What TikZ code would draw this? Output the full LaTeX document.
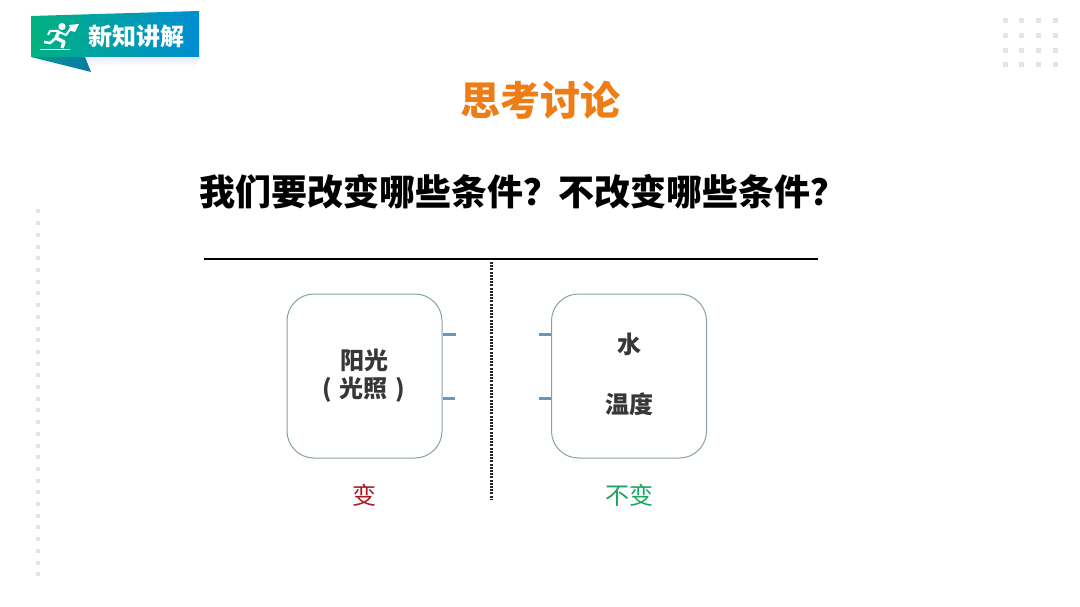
\documentclass[tikz,border=0pt]{standalone}
\usepackage{fontspec}
\setmainfont{Noto Sans CJK SC}
\definecolor{tealgreen}{RGB}{0,178,128}
\definecolor{bannerblue}{RGB}{0,140,212}
\definecolor{tailblue}{RGB}{10,120,165}
\definecolor{titleorange}{RGB}{237,125,20}
\definecolor{boxline}{RGB}{135,160,165}
\definecolor{tickblue}{RGB}{105,150,195}
\definecolor{dotgray}{RGB}{228,228,228}
\definecolor{changered}{RGB}{170,25,35}
\definecolor{keepgreen}{RGB}{25,165,95}
\definecolor{labelgray}{RGB}{55,55,55}
\begin{document}
\begin{tikzpicture}[
        x=1pt, y=-1pt,
        every node/.style={inner sep=0pt},
        condbox/.style={draw=boxline, line width=1pt, rounded corners=27pt, minimum width=155pt, minimum height=164pt},
        condtext/.style={font=\bfseries\fontsize{24}{30}\selectfont, text=labelgray, align=center},
        sidelabel/.style={font=\fontsize{24}{28}\selectfont},
        tickline/.style={draw=tickblue, line width=3pt},
        greydot/.style={fill=dotgray, draw=none}
    ]
        \useasboundingbox (0,0) rectangle (1080,607);
        % banner
        \shade[top color=blue!8, bottom color=white] (38,57) -- (200,57) -- (196,67) -- (92,67) -- (42,64) -- cycle;
        \shade[left color=tealgreen!60!tailblue, right color=tailblue] (31,57) -- (91,72) -- (85,57) -- cycle;
        \shade[left color=tealgreen, right color=bannerblue] (31,16) -- (199,11) -- (199,57) -- (31,57) -- cycle;
        \node[font=\bfseries\fontsize{24}{24}\selectfont, text=white] (banner) at (136.5,36.5) {新知讲解};
        % runner
        \fill[white] (62,26.5) circle (3.6);
        \draw[white, line width=3.4pt, line join=round] (59,31) -- (56,38) -- (64,42) -- (62,48);
        \draw[white, line width=2.6pt, line join=round] (56,38) -- (50,43) -- (44,42);
        \draw[white, line width=2pt, line join=round] (59,31) -- (50,31) -- (48,35);
        \draw[white, line width=2pt, line join=round] (59,32) -- (66,35) -- (71,28);
        \fill[white] (69,25) -- (79,24) -- (75,32) -- (71,31) -- cycle;
        \draw[white, line width=1pt] (40,50) -- (70,50);
        % corner dots
        \foreach \px in {1005,1021,1038,1055}
            \foreach \py in {21,36,51,65}
                \fill[greydot] (\px-2.5,\py-2.5) rectangle (\px+2.5,\py+2.5);
        % side dots
        \foreach \py in {0,...,31}
            \fill[greydot] (35.5,209.5+\py*11.7) rectangle (39.5,213.5+\py*11.7);
        % headings
        \node[font=\bfseries\fontsize{40}{44}\selectfont, text=titleorange] (title) at (540,100) {思考讨论};
        \node[font=\bfseries\fontsize{36}{40}\selectfont, text=black] (question) at (523,192) {我们要改变哪些条件\symbol{"FF1F}不改变哪些条件\symbol{"FF1F}};
        % rule and divider
        \coordinate (ruleL) at (204,259);
        \coordinate (ruleR) at (818,259);
        \coordinate (divT) at (491.5,262);
        \coordinate (divB) at (491.5,499);
        \draw[black, line width=1.6pt] (ruleL) -- (ruleR);
        \draw[black!85, line width=2.6pt, dash pattern=on 2pt off 1.2pt] (divT) -- (divB);
        % boxes
        \node[condbox] (varybox) at (364.5,376) {};
        \node[condbox] (keepbox) at (629,376) {};
        \node[condtext] (sun) at (364,360) {阳光};
        \node[condtext] (light) at (364,390) {(\hspace{8pt}光照\hspace{8pt})};
        \node[condtext] (water) at (629,344) {水};
        \node[condtext] (temp) at (629,404) {温度};
        % ticks
        \coordinate (tickA) at (456,334);
        \coordinate (tickB) at (455,398);
        \coordinate (tickC) at (539,334);
        \coordinate (tickD) at (539,398);
        \draw[tickline] (varybox.east |- tickA) -- (tickA);
        \draw[tickline] (varybox.east |- tickB) -- (tickB);
        \draw[tickline] (keepbox.west |- tickC) -- (tickC);
        \draw[tickline] (keepbox.west |- tickD) -- (tickD);
        % labels
        \node[sidelabel, text=changered] (vary) at (364,495) {变};
        \node[sidelabel, text=keepgreen] (keep) at (629,495) {不变};
    \end{tikzpicture}
\end{document}
